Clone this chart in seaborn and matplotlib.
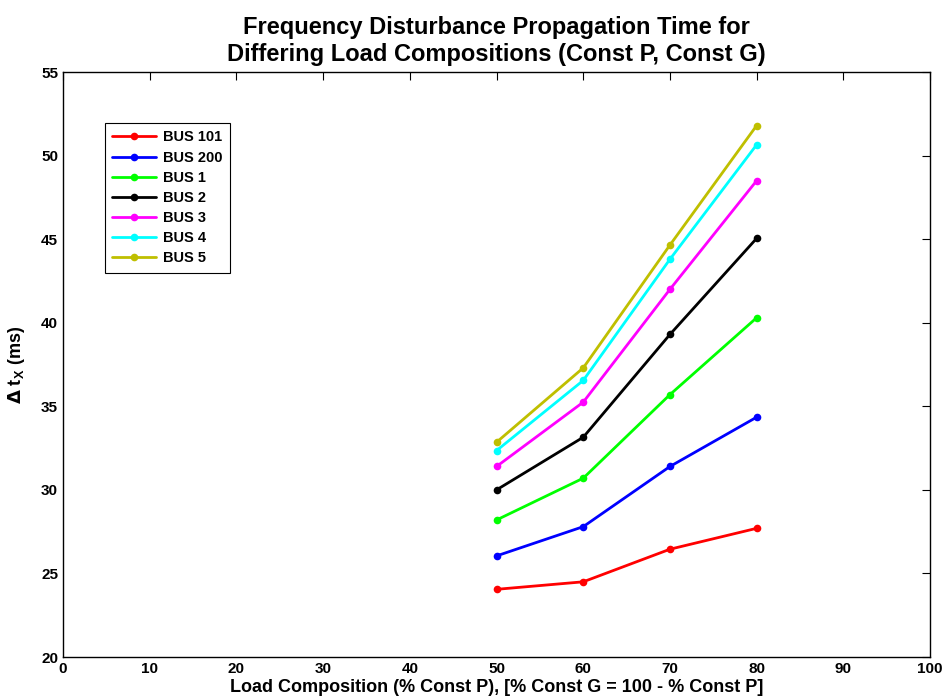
import matplotlib
matplotlib.use('Agg')
import matplotlib.pyplot as plt
import numpy as np
import pandas as pd
import seaborn as sns

load_pct = [50, 60, 70, 80]
bus_names = ['BUS 101', 'BUS 200', 'BUS 1', 'BUS 2', 'BUS 3', 'BUS 4', 'BUS 5']
bus101 = [24.05, 24.5, 26.45, 27.7]
bus200 = [26.05, 27.8, 31.4, 34.35]
bus1 = [28.2, 30.7, 35.7, 40.3]
bus2 = [30.0, 33.15, 39.3, 45.05]
bus3 = [31.4, 35.25, 42.0, 48.5]
bus4 = [32.35, 36.55, 43.8, 50.65]
bus5 = [32.85, 37.3, 44.65, 51.8]
colors = ['#ff0000', '#0000ff', '#00ff00', '#000000', '#ff00ff', '#00ffff', '#bfbf00']

rows = []
for name, vals in zip(bus_names, [bus101, bus200, bus1, bus2, bus3, bus4, bus5]):
    for x, y in zip(load_pct, vals):
        rows.append({'load': x, 'dt': y, 'bus': name})
df = pd.DataFrame(rows)

sns.set_style('white')
plt.rcParams['font.family'] = ['Liberation Sans Narrow', 'Liberation Sans', 'DejaVu Sans']
plt.rcParams['font.weight'] = 'bold'
plt.rcParams['text.color'] = 'black'
plt.rcParams['axes.labelcolor'] = 'black'
plt.rcParams['xtick.color'] = 'black'
plt.rcParams['ytick.color'] = 'black'

fig = plt.figure(figsize=(9.45, 7.0), dpi=100)
ax = fig.add_axes([0.0667, 0.0614, 0.9175, 0.8357])

sns.lineplot(data=df, x='load', y='dt', hue='bus', hue_order=bus_names,
             palette=colors, marker='o', markersize=5.5, markeredgewidth=0,
             linewidth=2, ax=ax)

ax.set_xlim(0, 100)
ax.set_ylim(20, 55)
ax.set_xticks(np.arange(0, 101, 10))
ax.set_yticks(np.arange(20, 56, 5))
ax.tick_params(direction='in', length=6, top=True, right=True, labelsize=11, width=0.8)
for s in ax.spines.values():
    s.set_color('black')
    s.set_linewidth(1)

ax.set_xlabel('Load Composition (% Const P), [% Const G = 100 - % Const P]',
              fontsize=13, fontweight='bold', labelpad=2)
ax.set_ylabel(r'$\Delta$ t$_\mathregular{X}$ (ms)', fontsize=13, fontweight='bold', labelpad=10)
ax.set_title('Frequency Disturbance Propagation Time for\nDiffering Load Compositions (Const P, Const G)',
             fontsize=17, fontweight='bold', pad=8)

leg = ax.legend(loc='upper left', bbox_to_anchor=(0.04, 0.925), fontsize=10.5,
                frameon=True, fancybox=False, edgecolor='black', framealpha=1,
                handlelength=3.0, handletextpad=0.5, borderpad=0.5, labelspacing=0.42)
leg.get_frame().set_linewidth(0.8)

plt.savefig('out.png', dpi=100)
